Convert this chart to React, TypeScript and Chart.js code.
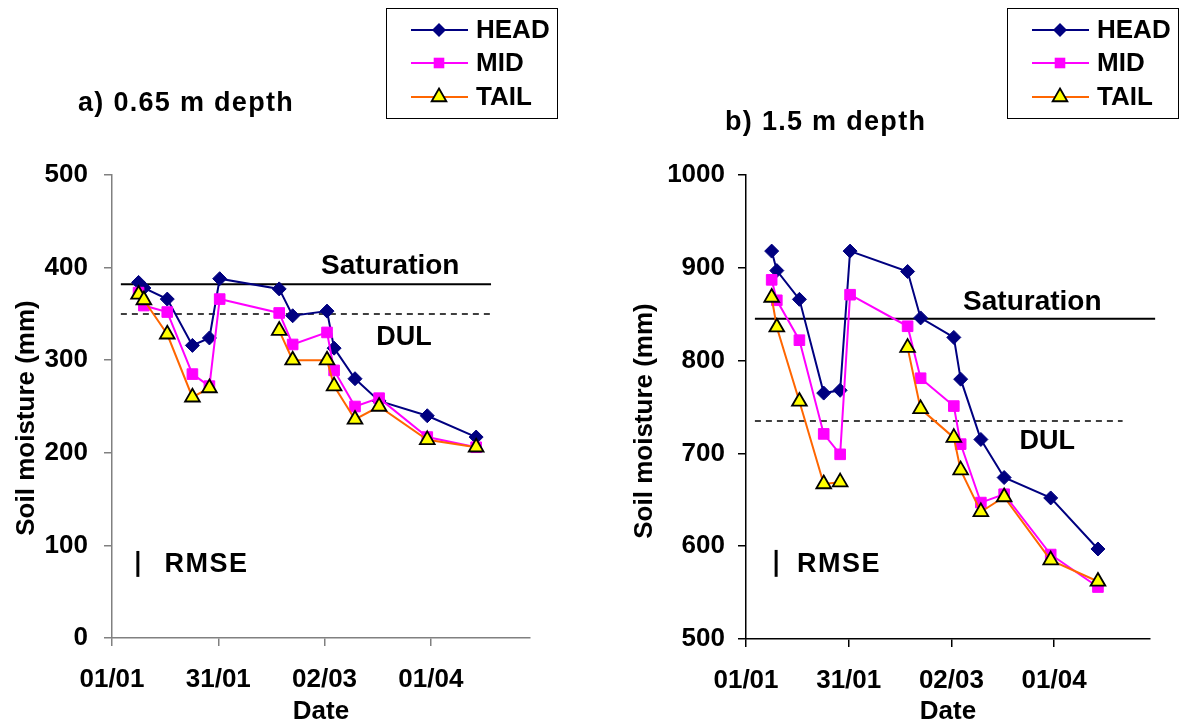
import React, { useEffect, useRef } from "react";
import { Chart, registerables } from "chart.js";

Chart.register(...registerables);

// ---------------- data ----------------
const days = [7.5, 9, 15.6, 22.7, 27.5, 30.4, 47.2, 51, 60.7, 62.7, 68.6, 75.4, 89, 102.8];
const tickDays = [0, 30, 60, 90];
const tickLabels = ["01/01", "31/01", "02/03", "01/04"];
const seriesNames = ["HEAD", "MID", "TAIL"];

const headA = [384, 378, 366, 316, 324, 388, 377, 348, 353, 313, 280, 256, 240, 217];
const midA = [373, 359, 352, 285, 272, 366, 351, 317, 330, 289, 250, 259, 217, 206];
const tailA = [371, 365, 328, 260, 270, null, 332, 300, 300, 272, 236, 250, 214, 206];

const headB = [918, 897, 866, 765, 768, 918, 896, 846, 825, 780, 715, 674, 652, 597];
const midB = [887, 865, 822, 721, 699, 871, 837, 781, 751, 710, 647, 656, 591, 556];
const tailB = [868, 836, 756, 667, 669, null, 814, 748, 717, 682, 637, 653, 585, 562];

const saturationA = 382;
const dulA = 350;
const saturationSpanA = [2.5, 107];
const dulSpanA = [2.5, 107];

const saturationB = 845;
const dulB = 735;
const saturationSpanB = [2.6, 119.5];
const dulSpanB = [2.6, 110];

const rmseA = [66, 94];
const rmseB = [567, 596];

// ---------------- styles ----------------
const FONT = "'Liberation Sans', Arial, Helvetica, sans-serif";
const COLORS = {
  head: "#000080",
  mid: "#FF00FF",
  tail: "#FF6600",
  tailFill: "#FFFF00",
};

type Panel = {
  title: string;
  titleX: number;
  titleY: number;
  head: (number | null)[];
  mid: (number | null)[];
  tail: (number | null)[];
  yMin: number;
  yMax: number;
  sat: number;
  satSpan: number[];
  dul: number;
  dulSpan: number[];
  satLabel: [number, number];
  dulLabel: [number, number];
  rmse: number[];
  rmseDay: number;
  rmseTextDay: number;
  legendX: number;
  axisColor: string;
  padRight: number;
  yWidth: number;
  xHeight: number;
  yTitleX: number;
  yTitleY: number;
  tickPad: number;
};

const panelA: Panel = {
  title: "a) 0.65 m depth",
  titleX: 78,
  titleY: 104,
  head: headA,
  mid: midA,
  tail: tailA,
  yMin: 0,
  yMax: 500,
  sat: saturationA,
  satSpan: saturationSpanA,
  dul: dulA,
  dulSpan: dulSpanA,
  satLabel: [59, 401],
  dulLabel: [74.6, 325],
  rmse: rmseA,
  rmseDay: 7.3,
  rmseTextDay: 14.8,
  legendX: 386,
  axisColor: "#808080",
  padRight: 62,
  yWidth: 112,
  xHeight: 89,
  yTitleX: 27,
  yTitleY: 418,
  tickPad: 16,
};

const panelB: Panel = {
  title: "b) 1.5 m depth",
  titleX: 725 - 592,
  titleY: 123,
  head: headB,
  mid: midB,
  tail: tailB,
  yMin: 500,
  yMax: 1000,
  sat: saturationB,
  satSpan: saturationSpanB,
  dul: dulB,
  dulSpan: dulSpanB,
  satLabel: [63.4, 863],
  dulLabel: [79.9, 712.6],
  rmse: rmseB,
  rmseDay: 8.8,
  rmseTextDay: 14.9,
  legendX: 1007 - 592,
  axisColor: "#000000",
  padRight: 34,
  yWidth: 154,
  xHeight: 88,
  yTitleX: 645 - 592,
  yTitleY: 421,
  tickPad: 13,
};

function drawMarker(ctx: CanvasRenderingContext2D, kind: string, x: number, y: number) {
  ctx.save();
  ctx.beginPath();
  if (kind === "HEAD") {
    const r = 7;
    ctx.moveTo(x, y - r);
    ctx.lineTo(x + r, y);
    ctx.lineTo(x, y + r);
    ctx.lineTo(x - r, y);
    ctx.closePath();
    ctx.fillStyle = COLORS.head;
    ctx.fill();
  } else if (kind === "MID") {
    const s = 5.3;
    ctx.rect(x - s, y - s, 2 * s, 2 * s);
    ctx.fillStyle = COLORS.mid;
    ctx.fill();
  } else {
    const r = 8.5;
    ctx.moveTo(x, y - r);
    ctx.lineTo(x + r * 0.866, y + r * 0.5);
    ctx.lineTo(x - r * 0.866, y + r * 0.5);
    ctx.closePath();
    ctx.fillStyle = COLORS.tailFill;
    ctx.fill();
    ctx.lineWidth = 1.8;
    ctx.strokeStyle = "#000";
    ctx.stroke();
  }
  ctx.restore();
}

function setSpacing(ctx: any, px: number) {
  if ("letterSpacing" in ctx) ctx.letterSpacing = `${px}px`;
}

function makeDecor(p: Panel) {
  return {
    id: "decor",
    afterDatasetsDraw(chart: any) {
      const ctx: CanvasRenderingContext2D = chart.ctx;
      const xs = chart.scales.x;
      const ys = chart.scales.y;
      ctx.save();
      ctx.fillStyle = "#000";
      ctx.font = `bold 28px ${FONT}`;
      ctx.textAlign = "left";
      ctx.textBaseline = "middle";
      ctx.fillText("Saturation", xs.getPixelForValue(p.satLabel[0]), ys.getPixelForValue(p.satLabel[1]));
      ctx.font = `bold 27px ${FONT}`;
      ctx.fillText("DUL", xs.getPixelForValue(p.dulLabel[0]), ys.getPixelForValue(p.dulLabel[1]));

      // RMSE indicator
      const bx = xs.getPixelForValue(p.rmseDay);
      ctx.beginPath();
      ctx.strokeStyle = "#000";
      ctx.lineWidth = 3;
      ctx.moveTo(bx, ys.getPixelForValue(p.rmse[0]));
      ctx.lineTo(bx, ys.getPixelForValue(p.rmse[1]));
      ctx.stroke();
      ctx.font = `bold 27px ${FONT}`;
      setSpacing(ctx, 1.5);
      ctx.fillText(
        "RMSE",
        xs.getPixelForValue(p.rmseTextDay),
        ys.getPixelForValue((p.rmse[0] + p.rmse[1]) / 2) + 1
      );
      ctx.restore();
    },
    afterDraw(chart: any) {
      const ctx: CanvasRenderingContext2D = chart.ctx;
      ctx.save();
      // title
      ctx.fillStyle = "#000";
      ctx.font = `bold 27px ${FONT}`;
      ctx.textAlign = "left";
      ctx.textBaseline = "middle";
      setSpacing(ctx, 1.3);
      ctx.fillText(p.title, p.titleX, p.titleY);
      setSpacing(ctx, 0);

      // y-axis title
      ctx.save();
      ctx.translate(p.yTitleX, p.yTitleY);
      ctx.rotate(-Math.PI / 2);
      ctx.textAlign = "center";
      ctx.font = `bold 26px ${FONT}`;
      ctx.fillText("Soil moisture (mm)", 0, 0);
      ctx.restore();

      // legend
      const bx = p.legendX;
      const by = 8;
      const bw = 171;
      const bh = 110;
      ctx.fillStyle = "#fff";
      ctx.fillRect(bx, by, bw, bh);
      ctx.strokeStyle = "#000";
      ctx.lineWidth = 1;
      ctx.strokeRect(bx + 0.5, by + 0.5, bw, bh);
      const rows = [30, 63, 97];
      const lineCols = [COLORS.head, COLORS.mid, COLORS.tail];
      seriesNames.forEach((name, i) => {
        const y = rows[i];
        ctx.beginPath();
        ctx.strokeStyle = lineCols[i];
        ctx.lineWidth = 2;
        ctx.moveTo(bx + 25, y);
        ctx.lineTo(bx + 82, y);
        ctx.stroke();
        drawMarker(ctx, name, bx + 53, y);
        ctx.fillStyle = "#000";
        ctx.font = `bold 26px ${FONT}`;
        ctx.textAlign = "left";
        ctx.textBaseline = "middle";
        ctx.fillText(name, bx + 90, y + 1);
      });
      ctx.restore();
    },
  };
}

function toXY(vals: (number | null)[]) {
  return days.map((d, i) => ({ x: d, y: vals[i] }));
}

function buildConfig(p: Panel): any {
  const tickFont = { family: FONT, size: 26, weight: "bold" as const };
  return {
    type: "line",
    data: {
      datasets: [
        {
          label: "HEAD",
          data: toXY(p.head),
          borderColor: COLORS.head,
          backgroundColor: COLORS.head,
          borderWidth: 2,
          pointStyle: "rectRot",
          pointRadius: 7,
          pointBorderWidth: 1,
          pointBorderColor: COLORS.head,
          pointBackgroundColor: COLORS.head,
          tension: 0,
          spanGaps: false,
          order: 3,
        },
        {
          label: "MID",
          data: toXY(p.mid),
          borderColor: COLORS.mid,
          backgroundColor: COLORS.mid,
          borderWidth: 2,
          pointStyle: "rect",
          pointRadius: 7.5,
          pointBorderWidth: 1,
          pointBorderColor: COLORS.mid,
          pointBackgroundColor: COLORS.mid,
          tension: 0,
          spanGaps: false,
          order: 2,
        },
        {
          label: "TAIL",
          data: toXY(p.tail),
          borderColor: COLORS.tail,
          backgroundColor: COLORS.tailFill,
          borderWidth: 2,
          pointStyle: "triangle",
          pointRadius: 8.5,
          pointBorderWidth: 1.8,
          pointBorderColor: "#000",
          pointBackgroundColor: COLORS.tailFill,
          tension: 0,
          spanGaps: false,
          order: 1,
        },
        {
          label: "Saturation",
          data: p.satSpan.map((d) => ({ x: d, y: p.sat })),
          borderColor: "#000",
          borderWidth: 2,
          pointRadius: 0,
          order: 4,
          clip: false,
        },
        {
          label: "DUL",
          data: p.dulSpan.map((d) => ({ x: d, y: p.dul })),
          borderColor: "#000",
          borderWidth: 1.5,
          borderDash: [6, 5],
          pointRadius: 0,
          order: 5,
          clip: false,
        },
      ],
    },
    options: {
      animation: false,
      responsive: false,
      devicePixelRatio: 1,
      events: [],
      layout: { padding: { left: 0, right: p.padRight, top: 175, bottom: 0 } },
      plugins: {
        legend: { display: false },
        tooltip: { enabled: false },
        title: { display: false },
      },
      scales: {
        x: {
          type: "linear",
          min: 0,
          max: 118,
          afterBuildTicks: (s: any) => {
            s.ticks = tickDays.map((v) => ({ value: v }));
          },
          afterFit: (s: any) => {
            s.height = p.xHeight;
          },
          ticks: {
            color: "#000",
            font: tickFont,
            padding: 18,
            maxRotation: 0,
            autoSkip: false,
            callback: (v: number) => {
              const i = tickDays.indexOf(v);
              return i >= 0 ? tickLabels[i] : "";
            },
          },
          grid: {
            drawOnChartArea: false,
            drawTicks: true,
            tickLength: 8,
            color: p.axisColor,
            lineWidth: 1.5,
          },
          border: { color: p.axisColor, width: 1.5 },
          title: {
            display: true,
            text: "Date",
            color: "#000",
            font: { family: FONT, size: 26, weight: "bold" },
            padding: { top: 0, bottom: 0 },
          },
        },
        y: {
          type: "linear",
          min: p.yMin,
          max: p.yMax,
          afterFit: (s: any) => {
            s.width = p.yWidth;
          },
          ticks: {
            stepSize: 100,
            color: "#000",
            font: tickFont,
            padding: p.tickPad,
            callback: (v: number) => String(v),
          },
          grid: {
            drawOnChartArea: false,
            drawTicks: true,
            tickLength: 8,
            color: p.axisColor,
            lineWidth: 1.5,
          },
          border: { color: p.axisColor, width: 1.5 },
        },
      },
    },
    plugins: [makeDecor(p)],
  };
}

export default function App() {
  const refA = useRef<HTMLCanvasElement>(null);
  const refB = useRef<HTMLCanvasElement>(null);
  useEffect(() => {
    const a = new Chart(refA.current as HTMLCanvasElement, buildConfig(panelA));
    const b = new Chart(refB.current as HTMLCanvasElement, buildConfig(panelB));
    return () => {
      a.destroy();
      b.destroy();
    };
  }, []);
  return (
    <div
      style={{
        position: "fixed",
        left: 0,
        top: 0,
        width: 1184,
        height: 727,
        background: "#fff",
        overflow: "hidden",
      }}
    >
      <canvas
        ref={refA}
        width={592}
        height={727}
        style={{ position: "absolute", left: 0, top: 0, width: 592, height: 727 }}
      />
      <canvas
        ref={refB}
        width={592}
        height={727}
        style={{ position: "absolute", left: 592, top: 0, width: 592, height: 727 }}
      />
    </div>
  );
}
